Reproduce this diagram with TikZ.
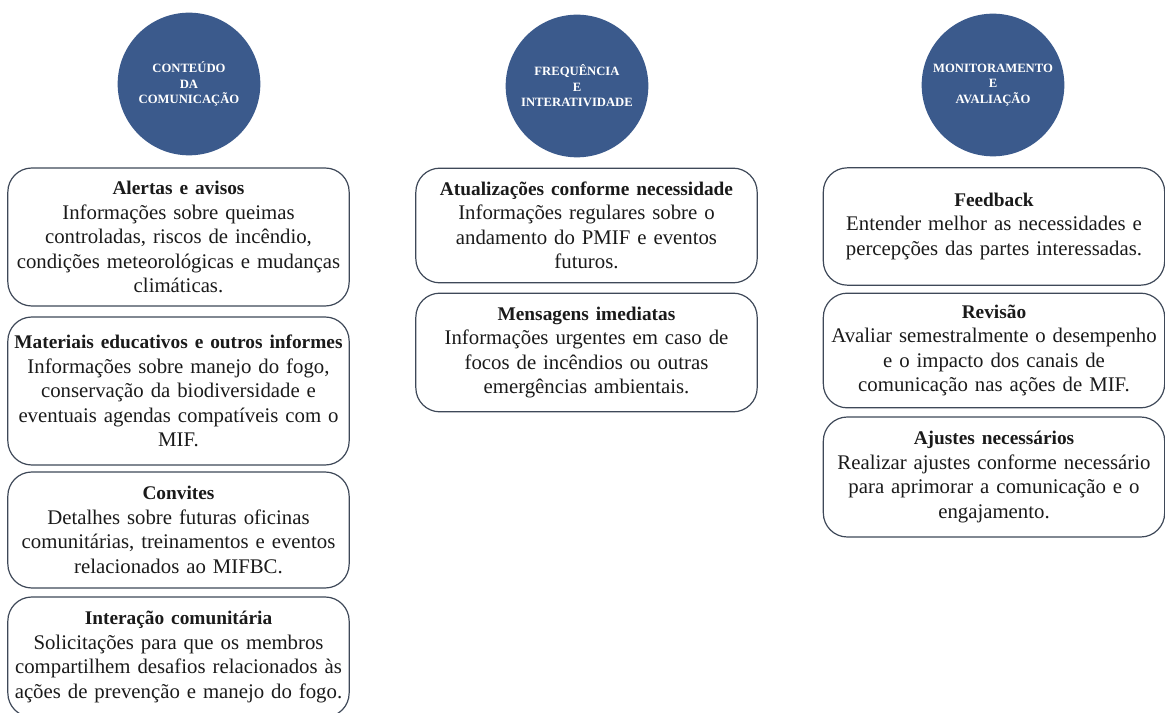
\documentclass[tikz,border=0pt]{standalone}
\usepackage{fontspec}
\setmainfont{Liberation Serif}
\usetikzlibrary{positioning}
\definecolor{pmifblue}{HTML}{3B5A8C}
\definecolor{pmifedge}{HTML}{3E4858}
\definecolor{pmifink}{HTML}{1A1A1A}
\tikzset{
  % the three theme discs
  pmif theme/.style={
    circle, fill=pmifblue, text=white, inner sep=0pt,
    minimum size=107pt, align=center,
    font=\bfseries\fontsize{9.5}{11.6}\selectfont,
  },
  % the content boxes stacked under each disc
  pmif item/.style={
    draw=pmifedge, line width=0.9pt, rounded corners=18pt,
    text=pmifink, align=center, inner xsep=1pt,
    text width=254pt, minimum height=#1,
    font=\fontsize{15.6}{18.4}\selectfont,
  },
  pmif item/.default=88pt,
}
\newcommand{\pmifhead}[1]{{\bfseries\fontsize{14.5}{18.4}\selectfont #1}}

\begin{document}
\begin{tikzpicture}[x=0.75pt,y=-0.75pt]
  \useasboundingbox (0,0) rectangle (1165,713);

  % ---- the three themes ----------------------------------------------------
  \node[pmif theme] (conteudo)  at (189,84) {CONTEÚDO\\DA\\COMUNICAÇÃO};
  \node[pmif theme] (frequencia) at (577,86) {FREQUÊNCIA\\E\\INTERATIVIDADE};
  \node[pmif theme] (monitor)   at (993,85) {MONITORAMENTO\\E\\AVALIAÇÃO};

  % ---- content of the communication ----------------------------------------
  \node[pmif item=103.5pt] (alertas) at (178.5,237)
    {\pmifhead{Alertas e avisos}\\
     Informações sobre queimas\\controladas, riscos de incêndio,\\
     condições meteorológicas e mudanças\\climáticas.};
  \node[pmif item=111pt] (materiais) at (178.5,391)
    {\pmifhead{Materiais educativos e outros informes}\\
     Informações sobre manejo do fogo,\\conservação da biodiversidade e\\
     eventuais agendas compatíveis com o\\MIF.};
  \node[pmif item=87pt] (convites) at (178.5,530)
    {\pmifhead{Convites}\\
     Detalhes sobre futuras oficinas\\comunitárias, treinamentos e eventos\\
     relacionados ao MIFBC.};
  \node[pmif item=90pt] (interacao) at (178.5,657)
    {\pmifhead{Interação comunitária}\\
     Solicitações para que os membros\\compartilhem desafios relacionados às\\
     ações de prevenção e manejo do fogo.};

  % ---- frequency and interactivity -----------------------------------------
  \node[pmif item=86pt] (atualiza) at (586.5,225.5)
    {\pmifhead{Atualizações conforme necessidade}\\
     Informações regulares sobre o\\andamento do PMIF e eventos\\futuros.};
  \node[pmif item=89pt] (mensagens) at (586.5,352.5)
    {\pmifhead{Mensagens imediatas}\\
     Informações urgentes em caso de\\focos de incêndios ou outras\\
     emergências ambientais.};

  % ---- monitoring and evaluation -------------------------------------------
  \node[pmif item=88pt] (feedback) at (994,226.5)
    {\pmifhead{Feedback}\\
     Entender melhor as necessidades e\\percepções das partes interessadas.};
  \node[pmif item=86pt] (revisao) at (994,350.5)
    {\pmifhead{Revisão}\\
     Avaliar semestralmente o desempenho\\e o impacto dos canais de\\
     comunicação nas ações de MIF.};
  \node[pmif item=90pt] (ajustes) at (994,477)
    {\pmifhead{Ajustes necessários}\\
     Realizar ajustes conforme necessário\\para aprimorar a comunicação e o\\
     engajamento.};

\end{tikzpicture}
\end{document}
